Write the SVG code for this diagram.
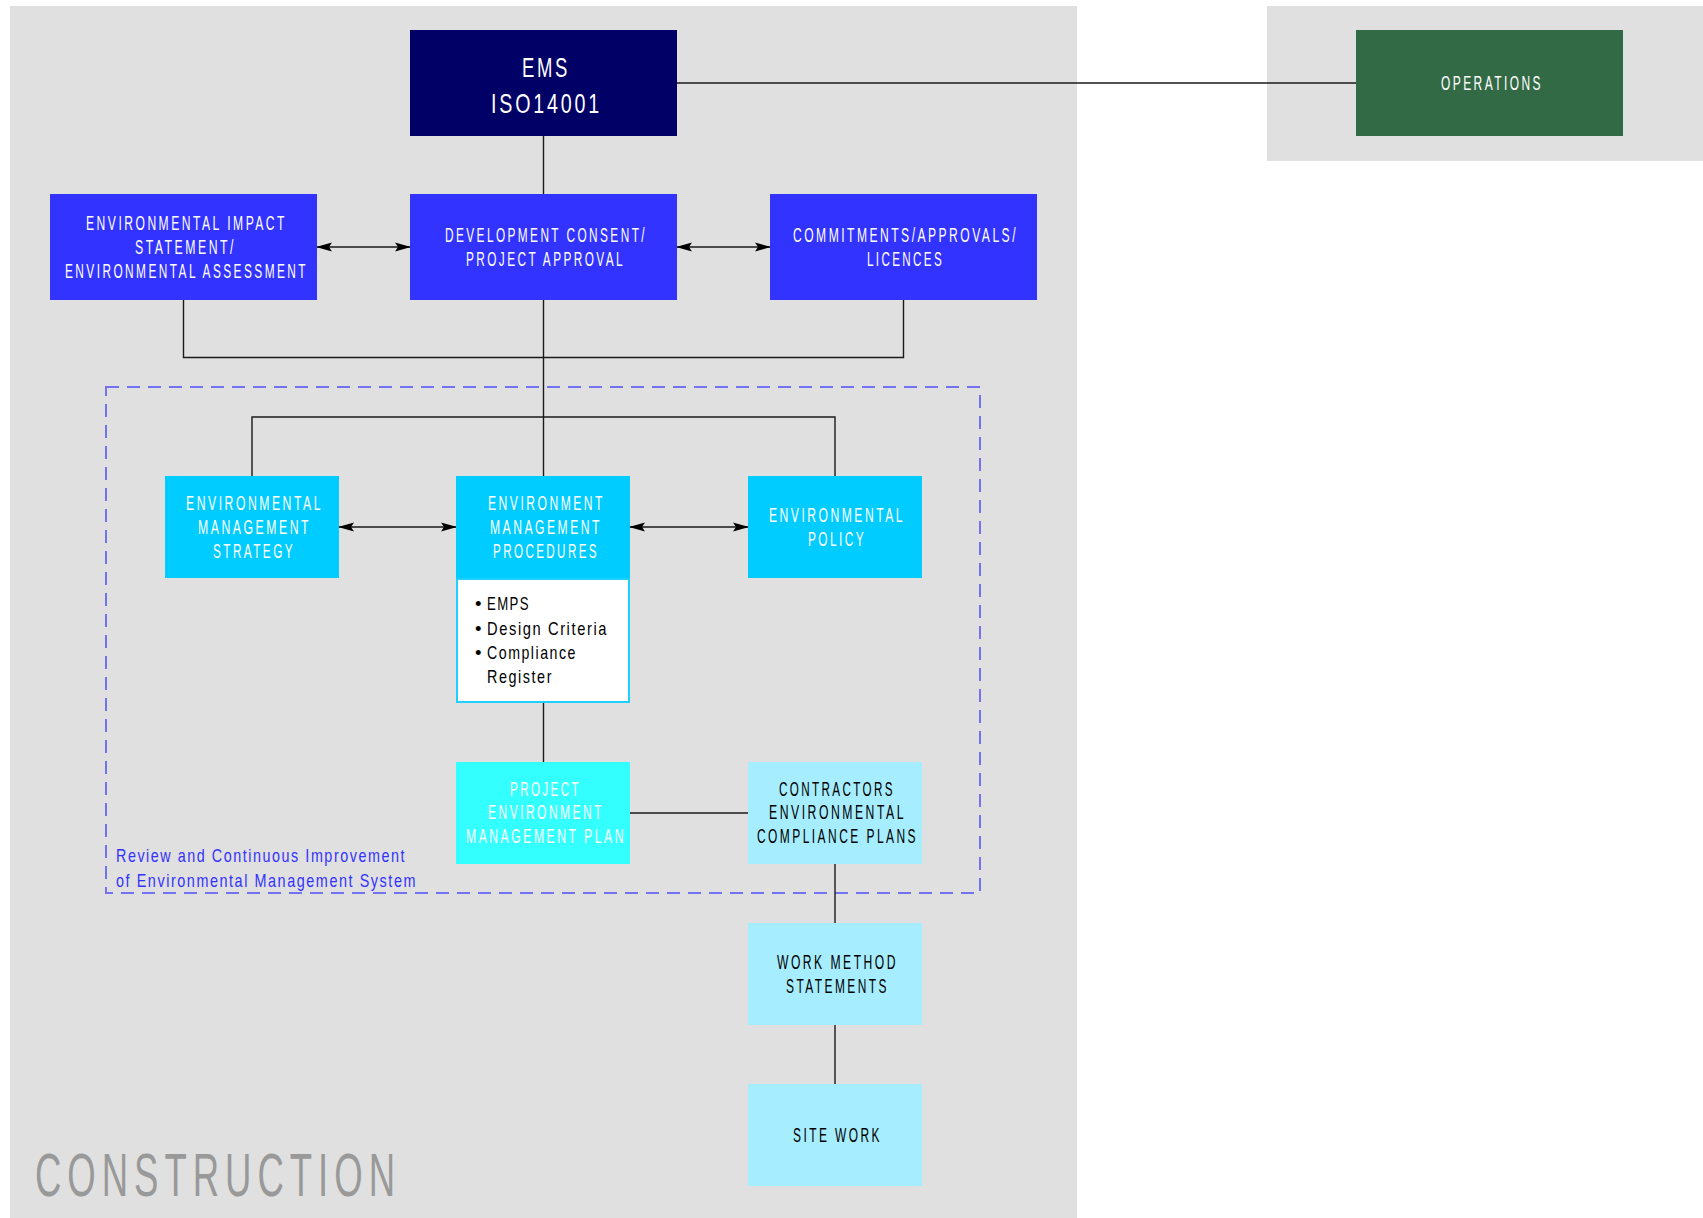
<svg xmlns="http://www.w3.org/2000/svg" width="1703" height="1218" viewBox="0 0 1703 1218">
<style>
.t{font-family:"Liberation Sans",Arial,sans-serif;font-size:19.5px;letter-spacing:4px;fill:#fff}
.k{fill:#000}
.b{font-family:"Liberation Sans",Arial,sans-serif;font-size:18.5px;letter-spacing:2px;fill:#000}
.rv{font-family:"Liberation Sans",Arial,sans-serif;font-size:18.5px;letter-spacing:2px;fill:#3333ff}
.ln{fill:none;stroke:#1a1a1a;stroke-width:1.4}
.ar{fill:none;stroke:#1a1a1a;stroke-width:1.6;marker-start:url(#ah);marker-end:url(#ah)}
</style>
<defs>
<marker id="ah" viewBox="0 0 16 10" refX="15" refY="5" markerWidth="16" markerHeight="10" markerUnits="userSpaceOnUse" orient="auto-start-reverse">
<path d="M0,0.5 L16,5 L0,9.5 L3,5 Z" fill="#000"/>
</marker>
</defs>
<rect x="10" y="6" width="1067" height="1212" fill="#e0e0e0"/>
<rect x="1267" y="6" width="436" height="155" fill="#e0e0e0"/>
<text x="35" y="1196" textLength="366" lengthAdjust="spacingAndGlyphs" style="font-family:'Liberation Sans',Arial,sans-serif;font-size:61px;letter-spacing:10px;fill:#999">CONSTRUCTION</text>
<rect x="106" y="387" width="874" height="506" fill="none" stroke="#7272f2" stroke-width="2" stroke-dasharray="13 8"/>
<text class="rv" x="116" y="862" textLength="290" lengthAdjust="spacingAndGlyphs">Review and Continuous Improvement</text>
<text class="rv" x="116" y="887" textLength="301" lengthAdjust="spacingAndGlyphs">of Environmental Management System</text>
<g id="connectors">
<path class="ln" d="M677,83 H1356"/>
<path class="ln" d="M543.5,136 V194"/>
<path class="ln" d="M543.5,300 V476"/>
<path class="ln" d="M183.5,300 V357.5 H903.5 V300"/>
<path class="ln" d="M252,476 V417 H835 V476"/>
<path class="ln" d="M543.5,703 V762"/>
<path class="ln" d="M630,813 H748"/>
<path class="ln" d="M835,864 V923"/>
<path class="ln" d="M835,1025 V1084"/>
<path class="ar" d="M317,247 H410"/>
<path class="ar" d="M677,247 H770"/>
<path class="ar" d="M339,527 H456"/>
<path class="ar" d="M630,527 H748"/>
</g>
<g id="ems">
<rect x="410" y="30" width="267" height="106" fill="#000066"/>
<text class="t" x="522" y="77" textLength="48" lengthAdjust="spacingAndGlyphs" style="font-size:28px">EMS</text>
<text class="t" x="491" y="113" textLength="111" lengthAdjust="spacingAndGlyphs" style="font-size:28px">ISO14001</text>
</g>
<g id="operations">
<rect x="1356" y="30" width="267" height="106" fill="#336a46"/>
<text class="t" x="1441" y="90" textLength="102" lengthAdjust="spacingAndGlyphs">OPERATIONS</text>
</g>
<g id="eis">
<rect x="50" y="194" width="267" height="106" fill="#3333ff"/>
<text class="t" x="86" y="230" textLength="201" lengthAdjust="spacingAndGlyphs">ENVIRONMENTAL IMPACT</text>
<text class="t" x="135" y="254" textLength="101" lengthAdjust="spacingAndGlyphs">STATEMENT/</text>
<text class="t" x="65" y="278" textLength="243" lengthAdjust="spacingAndGlyphs">ENVIRONMENTAL ASSESSMENT</text>
</g>
<g id="development">
<rect x="410" y="194" width="267" height="106" fill="#3333ff"/>
<text class="t" x="445" y="242" textLength="202" lengthAdjust="spacingAndGlyphs">DEVELOPMENT CONSENT/</text>
<text class="t" x="466" y="266" textLength="159" lengthAdjust="spacingAndGlyphs">PROJECT APPROVAL</text>
</g>
<g id="commitments">
<rect x="770" y="194" width="267" height="106" fill="#3333ff"/>
<text class="t" x="793" y="242" textLength="225" lengthAdjust="spacingAndGlyphs">COMMITMENTS/APPROVALS/</text>
<text class="t" x="867" y="266" textLength="77" lengthAdjust="spacingAndGlyphs">LICENCES</text>
</g>
<g id="strategy">
<rect x="165" y="476" width="174" height="102" fill="#00ccff"/>
<text class="t" x="186" y="510" textLength="137" lengthAdjust="spacingAndGlyphs">ENVIRONMENTAL</text>
<text class="t" x="198" y="534" textLength="113" lengthAdjust="spacingAndGlyphs">MANAGEMENT</text>
<text class="t" x="213" y="558" textLength="82" lengthAdjust="spacingAndGlyphs">STRATEGY</text>
</g>
<g id="procedures">
<rect x="456" y="476" width="174" height="104" fill="#00ccff"/>
<rect x="457" y="579" width="172" height="123" fill="#fff" stroke="#1fd0ff" stroke-width="2"/>
<text class="t" x="488" y="510" textLength="117" lengthAdjust="spacingAndGlyphs">ENVIRONMENT</text>
<text class="t" x="490" y="534" textLength="112" lengthAdjust="spacingAndGlyphs">MANAGEMENT</text>
<text class="t" x="493" y="558" textLength="106" lengthAdjust="spacingAndGlyphs">PROCEDURES</text>
<text class="b" x="475" y="610">•</text>
<text class="b" x="487" y="610" textLength="43" lengthAdjust="spacingAndGlyphs">EMPS</text>
<text class="b" x="475" y="635">•</text>
<text class="b" x="487" y="635" textLength="121" lengthAdjust="spacingAndGlyphs">Design Criteria</text>
<text class="b" x="475" y="659">•</text>
<text class="b" x="487" y="659" textLength="90" lengthAdjust="spacingAndGlyphs">Compliance</text>
<text class="b" x="487" y="683" textLength="66" lengthAdjust="spacingAndGlyphs">Register</text>
</g>
<g id="policy">
<rect x="748" y="476" width="174" height="102" fill="#00ccff"/>
<text class="t" x="769" y="522" textLength="136" lengthAdjust="spacingAndGlyphs">ENVIRONMENTAL</text>
<text class="t" x="808" y="546" textLength="58" lengthAdjust="spacingAndGlyphs">POLICY</text>
</g>
<g id="pemp">
<rect x="456" y="762" width="174" height="102" fill="#33ffff"/>
<text class="t" x="510" y="796" textLength="71" lengthAdjust="spacingAndGlyphs">PROJECT</text>
<text class="t" x="488" y="819" textLength="116" lengthAdjust="spacingAndGlyphs">ENVIRONMENT</text>
<text class="t" x="466" y="843" textLength="160" lengthAdjust="spacingAndGlyphs">MANAGEMENT PLAN</text>
</g>
<g id="contractors">
<rect x="748" y="762" width="174" height="102" fill="#a6eeff"/>
<text class="t k" x="779" y="796" textLength="116" lengthAdjust="spacingAndGlyphs">CONTRACTORS</text>
<text class="t k" x="769" y="819" textLength="137" lengthAdjust="spacingAndGlyphs">ENVIRONMENTAL</text>
<text class="t k" x="757" y="843" textLength="161" lengthAdjust="spacingAndGlyphs">COMPLIANCE PLANS</text>
</g>
<g id="workmethod">
<rect x="748" y="923" width="174" height="102" fill="#a6eeff"/>
<text class="t k" x="777" y="969" textLength="121" lengthAdjust="spacingAndGlyphs">WORK METHOD</text>
<text class="t k" x="786" y="993" textLength="103" lengthAdjust="spacingAndGlyphs">STATEMENTS</text>
</g>
<g id="sitework">
<rect x="748" y="1084" width="174" height="102" fill="#a6eeff"/>
<text class="t k" x="793" y="1142" textLength="89" lengthAdjust="spacingAndGlyphs">SITE WORK</text>
</g>
</svg>
